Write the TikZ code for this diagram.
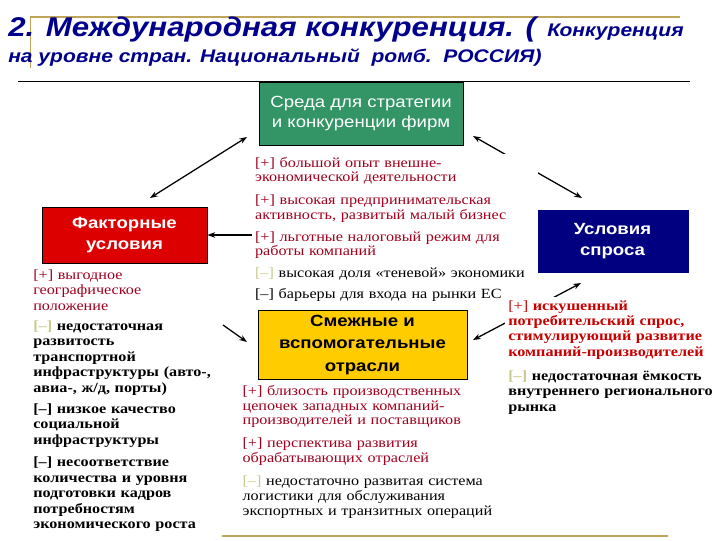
\documentclass[tikz,border=0pt]{standalone}
\usepackage{fontspec}
\usepackage{xcolor}
\usetikzlibrary{backgrounds,arrows.meta}
\setmainfont[FakeStretch=1.15]{Liberation Serif}
\newfontfamily\arial[FakeStretch=1.15]{Liberation Sans}
\definecolor{titleblue}{RGB}{0,0,140}
\definecolor{sredagreen}{RGB}{51,148,102}
\definecolor{factorred}{RGB}{221,0,0}
\definecolor{sprosblue}{RGB}{0,0,128}
\definecolor{smezhgold}{RGB}{255,204,0}
\definecolor{plusred}{RGB}{160,0,30}
\definecolor{brightred}{RGB}{200,0,0}
\definecolor{paleminus}{RGB}{200,200,140}
\definecolor{khaki}{RGB}{190,165,90}
\newcommand{\palemark}{\textcolor{paleminus}{[–]}}
\tikzset{
  cornerbox/.style={draw=black,line width=0.6pt,align=center,
    font=\arial\bfseries\fontsize{11.5}{15}\selectfont},
  notes/.style={anchor=north west,align=left,inner sep=2pt},
  plainnotes/.style={notes,font=\fontsize{10}{10.3}\selectfont},
  boldnotes/.style={notes,font=\bfseries\fontsize{10}{11}\selectfont},
  link/.style={line width=0.9pt}
}
\begin{document}
\begin{tikzpicture}[x=0.025cm,y=-0.025cm,>={Stealth[length=5.5pt,width=4pt]}]
\useasboundingbox (0,0) rectangle (720,540);

\draw[khaki,line width=1.4pt] (30,17) -- (680,17);
\draw[khaki,line width=0.7pt] (30,17) -- (30,68);
\draw[line width=0.5pt] (18,81) -- (690,81);
\draw[khaki,line width=2pt] (222,536) -- (668,536);

\node[anchor=base west,inner sep=0,text=titleblue,font=\arial\bfseries\itshape] (title1) at (8,36)
  {{\fontsize{19.3}{22}\selectfont 2. Международная конкуренция. (}\hspace{8pt}{\fontsize{13}{15}\selectfont Конкуренция}};
\node[anchor=base west,inner sep=0,text=titleblue,font=\arial\bfseries\itshape\fontsize{13}{15}\selectfont] (title2) at (8,62)
  {на уровне стран. Национальный\ \ ромб.\ \ РОССИЯ)};

\node[cornerbox,fill=sredagreen,text=white,font=\arial\fontsize{11.5}{14}\selectfont,
  minimum width=5.1cm,minimum height=1.575cm] (sreda) at (361,113.5)
  {Среда для стратегии\\и конкуренции фирм};
\node[cornerbox,fill=factorred,text=white,minimum width=4.125cm,minimum height=1.4cm] (factor) at (124.5,235)
  {Факторные\\условия};
\node[cornerbox,draw=none,fill=sprosblue,text=white,minimum width=3.825cm,minimum height=1.575cm] (spros) at (612.5,241.5)
  {Условия\\спроса};
\node[cornerbox,fill=smezhgold,text=black,font=\arial\bfseries\fontsize{11.5}{16}\selectfont,
  minimum width=5.225cm,minimum height=1.55cm] (smezh) at (362.5,345)
  {Смежные и\\вспомогательные\\отрасли};

\node[plainnotes,fill=white,text=plusred,text width=7cm] (ctop) at (252,154)
  {[+] большой опыт внешне-\\экономической деятельности\\[6pt]
   [+] высокая предпринимательская\\активность, развитый малый бизнес\\[5.5pt]
   [+] льготные налоговый режим для\\работы компаний\\[5.5pt]
   \palemark\ \textcolor{black}{высокая доля «теневой» экономики}\\[4pt]
   \textcolor{black}{[–] барьеры для входа на рынки ЕС}};

\node[boldnotes,text width=5cm] (left) at (30.2,266.5)
  {\textcolor{plusred}{\mdseries [+] выгодное}\\\textcolor{plusred}{\mdseries географическое}\\\textcolor{plusred}{\mdseries положение}\\[3.2pt]
   \palemark\ недостаточная\\развитость\\транспортной\\инфраструктуры (авто-,\\авиа-, ж/д, порты)\\[3.9pt]
   [–] низкое качество\\социальной\\инфраструктуры\\[5.3pt]
   [–] несоответствие\\количества и уровня\\подготовки кадров\\потребностям\\экономического роста};

\node[plainnotes,font=\fontsize{10}{10.6}\selectfont,text=plusred,text width=7cm] (cbot) at (239.5,382)
  {[+] близость производственных\\цепочек западных компаний-\\производителей и поставщиков\\[5.7pt]
   [+] перспектива развития\\обрабатывающих отраслей\\[5.7pt]
   \palemark\ \textcolor{black}{недостаточно развитая система}\\\textcolor{black}{логистики для обслуживания}\\\textcolor{black}{экспортных и транзитных операций}};

\node[boldnotes,fill=white,text=brightred,text width=5.3cm] (right) at (505.2,297.2)
  {{\mdseries [+]} искушенный\\потребительский спрос,\\стимулирующий развитие\\компаний-производителей\\[6pt]
   \palemark\ \textcolor{black}{недостаточная ёмкость}\\\textcolor{black}{внутреннего регионального}\\\textcolor{black}{рынка}};

\coordinate (sredaSW) at (247,137);
\coordinate (factorN) at (150,198);
\coordinate (sredaSE) at (473,136);
\coordinate (sprosN) at (582,198);
\coordinate (leftTail) at (223,325);
\coordinate (smezhNW) at (247,342);
\coordinate (smezhNE) at (473,340);
\coordinate (sprosSW) at (581,283);

\begin{scope}[on background layer]
\draw[link,<->] (sredaSW) -- (factorN);
\draw[link,<->] (sredaSE) -- (sprosN);
\draw[link,->] (ctop.west |- factor.east) -- (factor.east);
\draw[link,->] (leftTail) -- (smezhNW);
\draw[link,<->] (smezhNE) -- (sprosSW);
\end{scope}
\end{tikzpicture}
\end{document}
